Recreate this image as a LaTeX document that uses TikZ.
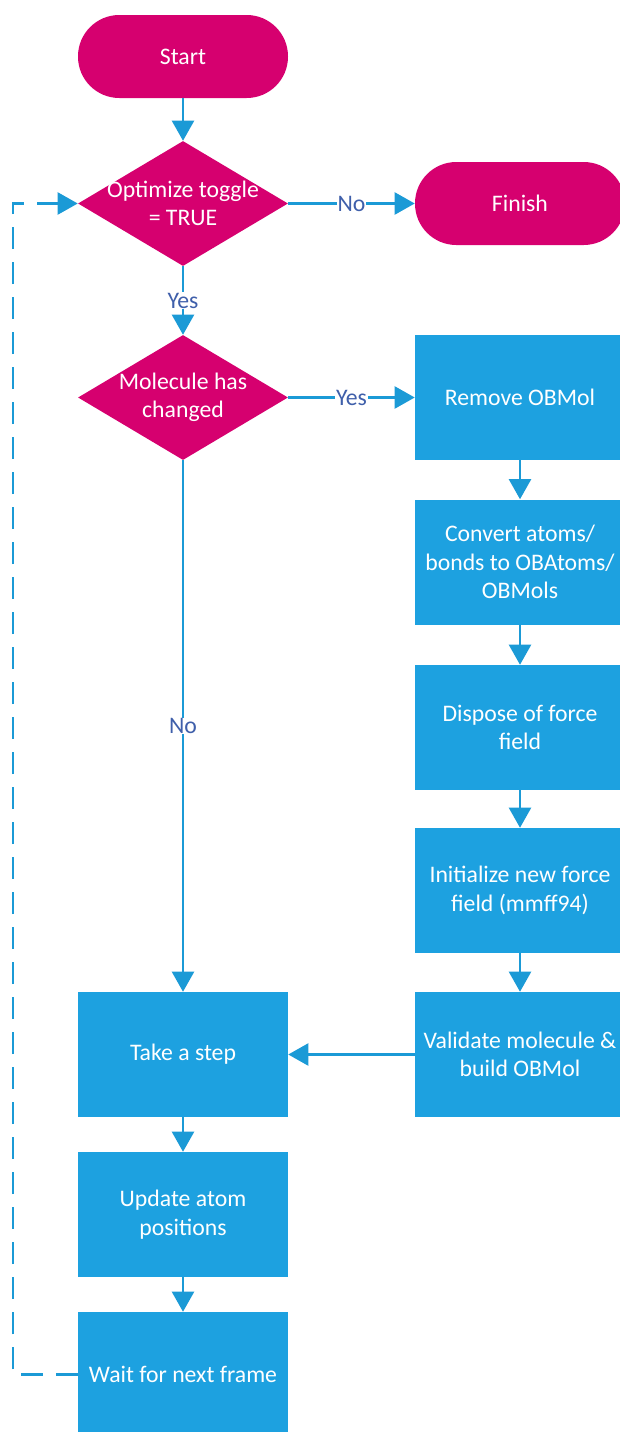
\documentclass[tikz,border=0pt]{standalone}
\usepackage{fontspec}
\setmainfont{Carlito}
\usetikzlibrary{shapes.geometric,arrows.meta}
\definecolor{mag}{HTML}{D6006F}
\definecolor{blu}{HTML}{1DA1E0}
\definecolor{lin}{HTML}{1B9AD6}
\definecolor{lab}{HTML}{3F5FAA}
\begin{document}
\begin{tikzpicture}[x=0.75pt,y=-0.75pt,
  term/.style={fill=mag, rounded corners=31pt, minimum width=157.5pt, minimum height=62.25pt, inner sep=0pt, text=white, font=\fontsize{17.8}{21.4}\selectfont},
  dec/.style={diamond, fill=mag, minimum width=157.5pt, minimum height=93.75pt, inner sep=0pt, aspect=1.68},
  proc/.style={fill=blu, minimum width=157.5pt, minimum height=93.75pt, inner sep=0pt, text=white, align=center, font=\fontsize{17.8}{21.4}\selectfont},
  txt/.style={text=white, align=center, inner sep=0pt, font=\fontsize{17.8}{21.4}\selectfont},
  arr/.style={draw=lin, line width=1.6pt, -{Triangle[length=15pt,width=16.5pt]}},
  dsh/.style={draw=lin, line width=1.6pt, dash pattern=on 16.5pt off 9.75pt, -{Triangle[length=15pt,width=16.5pt]}},
  lbl/.style={fill=white, text=lab, inner sep=0.5pt, font=\fontsize{17.8}{20}\selectfont}]
\useasboundingbox (0,0) rectangle (620,1432);

\node[term] (start) at (183,56.5) {Start};
\node[dec] (d1) at (183,203.5) {};
\node[txt] (d1t) at (d1) {Optimize toggle\\= TRUE};
\node[term] (finish) at (520,203.5) {Finish};
\node[dec] (d2) at (183,397.5) {};
\node[txt] (d2t) at (d2) {Molecule has\\changed};

\node[proc] (remove) at (520,397.5) {Remove OBMol};
\node[proc] (convert) at (520,562) {Convert atoms/\\bonds to OBAtoms/\\OBMols};
\node[proc] (dispose) at (520,727.5) {Dispose of force\\field};
\node[proc] (init) at (520,890.5) {Initialize new force\\field (mmff94)};
\node[proc] (valid) at (520,1054.5) {Validate molecule \&\\build OBMol};

\node[proc] (take) at (183,1054.5) {Take a step};
\node[proc] (update) at (183,1214.5) {Update atom\\positions};
\node[proc] (wait) at (183,1374.5) {Wait for next frame};

\draw[arr] (start.south) -- (d1.north);
\draw[arr] (d1.east) -- node[lbl] (lno1) {No} (finish.west);
\draw[arr] (d1.south) -- node[lbl] (lyes1) {Yes} (d2.north);
\draw[arr] (d2.east) -- node[lbl] (lyes2) {Yes} (remove.west);
\draw[arr] (d2.south) -- node[lbl] (lno2) {No} (take.north);
\draw[arr] (remove.south) -- (convert.north);
\draw[arr] (convert.south) -- (dispose.north);
\draw[arr] (dispose.south) -- (init.north);
\draw[arr] (init.south) -- (valid.north);
\draw[arr] (valid.west) -- (take.east);
\draw[arr] (take.south) -- (update.north);
\draw[arr] (update.south) -- (wait.north);

\coordinate (lb) at (13,1374.5);
\coordinate (lt) at (13,203.5);
\draw[dsh] (wait.west) -- (lb) -- (lt) -- (d1.west);
\end{tikzpicture}
\end{document}
